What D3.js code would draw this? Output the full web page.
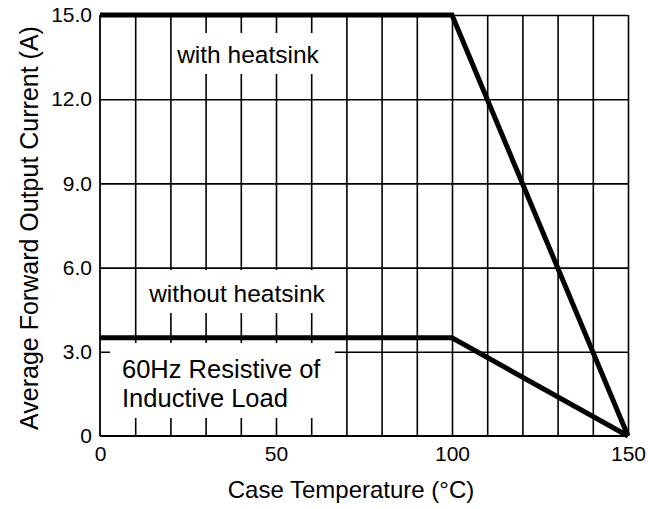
<!DOCTYPE html>
<html>
<head>
<meta charset="utf-8">
<script src="https://cdn.jsdelivr.net/npm/d3@7"></script>
<style>
  body { margin: 0; background: #fff; }
  svg { font-family: "Liberation Sans", Arial, sans-serif; }
  .grid line { stroke: #000; stroke-width: 1.6; }
  .grid .domain { display: none; }
  .axis .domain { display: none; }
  .axis text { font-size: 21px; fill: #000; }
  .note { font-size: 24.5px; fill: #000; }
  .load { font-size: 25.5px; }
  .label { font-size: 24px; fill: #000; }
</style>
</head>
<body>
<script>
// derating curves
var tempWith = [0, 100, 150];
var currentWith = [15, 15, 0];
var tempWithout = [0, 100, 150];
var currentWithout = [3.5, 3.5, 0];

var xTicks = [0, 50, 100, 150];
var xTickLabels = ["0", "50", "100", "150"];
var yTicks = [0, 3, 6, 9, 12, 15];
var yTickLabels = ["0", "3.0", "6.0", "9.0", "12.0", "15.0"];
var xGrid = d3.range(10, 151, 10);
var yGrid = [3, 6, 9, 12, 15];

var margin = {top: 15, right: 20, bottom: 73, left: 100},
    width = 648 - margin.left - margin.right,
    height = 509 - margin.top - margin.bottom;

var x = d3.scaleLinear().domain([0, 150]).range([0, width]);
var y = d3.scaleLinear().domain([0, 15]).range([height, 0]);

var svg = d3.select("body").append("svg")
    .attr("width", 648)
    .attr("height", 509)
  .append("g")
    .attr("transform", "translate(" + margin.left + "," + margin.top + ")");

// grid
svg.append("g")
    .attr("class", "grid")
    .attr("transform", "translate(0," + height + ")")
    .call(d3.axisBottom(x).tickValues(xGrid).tickSize(-height).tickFormat(""));

svg.append("g")
    .attr("class", "grid")
    .call(d3.axisLeft(y).tickValues(yGrid).tickSize(-width).tickFormat(""));

// axis lines
svg.append("line")
    .attr("x1", 0).attr("x2", 0)
    .attr("y1", 0).attr("y2", height)
    .style("stroke", "#000").style("stroke-width", 1.8);
svg.append("line")
    .attr("x1", 0).attr("x2", width)
    .attr("y1", height).attr("y2", height)
    .style("stroke", "#000").style("stroke-width", 1.8);

// white boxes behind the notes (they cut the grid)
var boxes = [
  {x: 76, y: 18, w: 154, h: 41},
  {x: 42, y: 255, w: 188, h: 43},
  {x: 10, y: 328, w: 225, h: 75}
];
svg.selectAll(".box")
    .data(boxes)
  .enter().append("rect")
    .attr("class", "box")
    .attr("x", function(d) { return d.x; })
    .attr("y", function(d) { return d.y; })
    .attr("width", function(d) { return d.w; })
    .attr("height", function(d) { return d.h; })
    .style("fill", "#fff");

svg.append("text").attr("class", "note")
    .attr("x", 148).attr("y", 48)
    .style("text-anchor", "middle")
    .text("with heatsink");
svg.append("text").attr("class", "note")
    .attr("x", 137).attr("y", 287)
    .style("text-anchor", "middle")
    .text("without heatsink");
svg.append("text").attr("class", "note load")
    .attr("x", 22).attr("y", 363)
    .text("60Hz Resistive of");
svg.append("text").attr("class", "note load")
    .attr("x", 22).attr("y", 392)
    .text("Inductive Load");

// tick labels
svg.append("g")
    .attr("class", "axis")
    .attr("transform", "translate(0," + height + ")")
    .call(d3.axisBottom(x).tickValues(xTicks).tickSize(0).tickPadding(10)
      .tickFormat(function(d, i) { return xTickLabels[i]; }));

svg.append("g")
    .attr("class", "axis")
    .call(d3.axisLeft(y).tickValues(yTicks).tickSize(0).tickPadding(8)
      .tickFormat(function(d, i) { return yTickLabels[i]; }));

// curves
var line = d3.line()
    .x(function(d) { return x(d[0]); })
    .y(function(d) { return y(d[1]); });

svg.append("path")
    .datum(d3.zip(tempWith, currentWith))
    .attr("d", line)
    .style("fill", "none")
    .style("stroke", "#000")
    .style("stroke-width", 5);

svg.append("path")
    .datum(d3.zip(tempWithout, currentWithout))
    .attr("d", line)
    .style("fill", "none")
    .style("stroke", "#000")
    .style("stroke-width", 5);

// axis titles
svg.append("text")
    .attr("class", "label")
    .attr("x", 251)
    .attr("y", height + 62)
    .style("text-anchor", "middle")
    .text("Case Temperature (\u00B0C)");

svg.append("text")
    .attr("class", "label")
    .attr("transform", "translate(" + (-62) + "," + (213) + ") rotate(-90)")
    .style("text-anchor", "middle")
    .style("font-size", "25px")
    .text("Average Forward Output Current (A)");
</script>
</body>
</html>
